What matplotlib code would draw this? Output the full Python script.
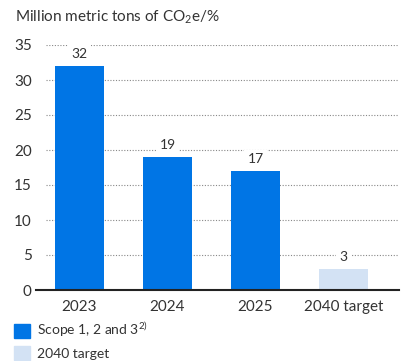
import matplotlib
matplotlib.use("Agg")
import matplotlib.pyplot as plt
from matplotlib.patches import Patch

plt.rcParams["font.family"] = ["Lato", "DejaVu Sans"]
plt.rcParams["mathtext.fontset"] = "custom"
plt.rcParams["mathtext.rm"] = "Lato"
plt.rcParams["mathtext.it"] = "Lato"

categories = ["2023", "2024", "2025", "2040 target"]
values = [32, 19, 17, 3]
is_target = [False, False, False, True]
yticks = [0, 5, 10, 15, 20, 25, 30, 35]

BLUE = "#0075E5"
LIGHT = "#D3E2F4"
TEXT = "#333333"

W, H = 401, 361
fig = plt.figure(figsize=(W / 100, H / 100), dpi=100)
ax = fig.add_axes([36 / W, 1 - 290 / H, (399 - 36) / W, (290 - 45) / H])

x = list(range(len(categories)))
colors = [LIGHT if t else BLUE for t in is_target]

# dotted horizontal guides, starting a little right of the axis origin
for yv in yticks[1:]:
    ax.hlines(yv, (46 - 36) / (399 - 36), 1, transform=ax.get_yaxis_transform(),
              colors="#888888", linestyles=(0, (1, 1.5)), linewidth=0.8, zorder=0)

ax.bar(x, values, width=0.557, color=colors, zorder=3)

for xi, v in zip(x, values):
    ax.annotate(str(v), (xi, v), xytext=(0, 4), textcoords="offset points",
                ha="center", va="bottom", fontsize=10, color=TEXT,
                bbox=dict(boxstyle="square,pad=0.25", fc="white", ec="none"), zorder=2)

ax.set_xlim(-0.494, 3.631)
ax.set_ylim(0, 35)
ax.set_yticks(yticks)
ax.set_xticks(x)
ax.set_xticklabels(categories)
ax.tick_params(axis="both", length=0, labelsize=11, colors=TEXT)
ax.tick_params(axis="y", pad=3)
ax.tick_params(axis="x", pad=7)
for s in ["left", "right", "top"]:
    ax.spines[s].set_visible(False)
ax.spines["bottom"].set_color("#222222")
ax.spines["bottom"].set_linewidth(1.5)
ax.spines["bottom"].set_zorder(4)

fig.text(15 / W, 1 - 17 / H, "Million metric tons of CO$_2$e/%", fontsize=11,
         color=TEXT, ha="left", va="center")

handles = [Patch(color=BLUE, label="Scope 1, 2 and 3$^{2)}$"),
           Patch(color=LIGHT, label="2040 target")]
fig.legend(handles=handles, loc="upper left", bbox_to_anchor=(11 / W, 1 - 318 / H),
           frameon=False, fontsize=10, handlelength=1.15, handleheight=1.15,
           handletextpad=0.5, labelspacing=0.5, borderpad=0.2, borderaxespad=0,
           labelcolor=TEXT)

fig.savefig("out.png", dpi=100)
